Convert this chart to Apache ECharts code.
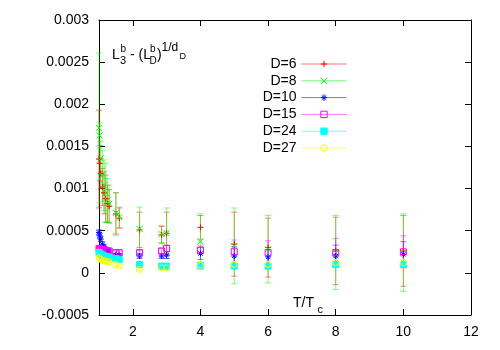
<!DOCTYPE html>
<html>
<head>
<meta charset="utf-8">
<script src="https://cdn.jsdelivr.net/npm/echarts@6/dist/echarts.min.js"></script>
<style>
  html, body { margin: 0; padding: 0; background: #fff; }
  #chart { width: 500px; height: 350px; }
</style>
</head>
<body>
<div id="chart"></div>
<script>
// T/Tc values (shared by all D)
const xs = [1.0, 1.02, 1.05, 1.1, 1.15, 1.2, 1.25, 1.3, 1.5, 1.6, 2.2, 2.85, 3.0, 4, 5, 6, 8, 10]

const d6 = [0.00135, 0.00130, 0.00118, 0.00102, 0.00095, 0.00088, 0.00082, 0.00079, 0.00070, 0.00065, 0.00051, 0.00045, 0.00047, 0.00054, 0.00034, 0.00030, 0.00026, 0.00026]
const d6Err = [0.00058, 0.00021, 0.00018, 0.00022, 0.00025, 0.00028, 0.00022, 0.00020, 0.00025, 0.00012, 0.00021, 0.00010, 0.00025, 0.00014, 0.00038, 0.00035, 0.00040, 0.00042]

const d8 = [0.00172, 0.00163, 0.00136, 0.00115, 0.00104, 0.00095, 0.00086, 0.00082, 0.00071, 0.00066, 0.00052, 0.00046, 0.00047, 0.00037, 0.00032, 0.00028, 0.00024, 0.00024]
const d8Err = [0.00089, 0.00015, 0.00020, 0.00030, 0.00030, 0.00035, 0.00026, 0.00022, 0.00024, 0.00012, 0.00026, 0.00010, 0.00030, 0.00033, 0.00045, 0.00040, 0.00044, 0.00046]

const d10 = [0.00048, 0.00044, 0.00040, 0.00034, 0.00031, 0.00028, 0.00027, 0.00026, 0.00021, 0.00021, 0.00020, 0.00020, 0.00021, 0.00023, 0.00020, 0.00019, 0.00020, 0.00022]
const d10Err = [0.00003, 0.00003, 0.00003, 0.00003, 0.00002, 0.00002, 0.00002, 0.00002, 0.00002, 0.00002, 0.00003, 0.00003, 0.00004, 0.00007, 0.00011, 0.00011, 0.00013, 0.00015]

const d15 = [0.00029, 0.00028, 0.00028, 0.00027, 0.00027, 0.00027, 0.00026, 0.00026, 0.00024, 0.00024, 0.00024, 0.00026, 0.00029, 0.00027, 0.00025, 0.00024, 0.00024, 0.00025]
const d15Err = [0.00002, 0.00002, 0.00002, 0.00002, 0.00002, 0.00002, 0.00002, 0.00002, 0.00002, 0.00002, 0.00003, 0.00003, 0.00004, 0.00005, 0.00014, 0.00014, 0.00017, 0.00019]

const d24 = [0.00024, 0.00023, 0.00022, 0.00021, 0.00020, 0.00019, 0.00019, 0.00018, 0.00017, 0.00016, 0.00010, 0.00008, 0.00008, 0.00009, 0.00008, 0.00008, 0.00010, 0.00010]
const d24Err = [0.00002, 0.00002, 0.00002, 0.00002, 0.00002, 0.00002, 0.00002, 0.00002, 0.00002, 0.00002, 0.00002, 0.00002, 0.00002, 0.00003, 0.00003, 0.00003, 0.00003, 0.00003]

const d27 = [0.00018, 0.00017, 0.00016, 0.00015, 0.00014, 0.00014, 0.00013, 0.00013, 0.00010, 0.00008, 0.00004, 0.00006, 0.00006, 0.00009, 0.00010, 0.00010, 0.00012, 0.00012]
const d27Err = [0.00002, 0.00002, 0.00002, 0.00002, 0.00002, 0.00002, 0.00002, 0.00002, 0.00002, 0.00002, 0.00002, 0.00002, 0.00002, 0.00003, 0.00003, 0.00003, 0.00004, 0.00004]

const names = ['D=6', 'D=8', 'D=10', 'D=15', 'D=24', 'D=27']
const values = [d6, d8, d10, d15, d24, d27]
const errors = [d6Err, d8Err, d10Err, d15Err, d24Err, d27Err]

const xTicks = [2, 4, 6, 8, 10, 12]

const colors = ['#ff0000', '#00ff00', '#0000ff', '#ff00ff', '#00ffff', '#ffff00']
const symbols = [
  'path://M0,5L10,5M5,0L5,10',
  'path://M0,0L10,10M10,0L0,10',
  'path://M0,5L10,5M5,0L5,10M1.5,1.5L8.5,8.5M8.5,1.5L1.5,8.5',
  'rect', 'rect', 'circle'
]
const filled = [true, true, true, false, true, false]

const font = 'Liberation Sans, Arial, Helvetica, sans-serif'

const chart = echarts.init(document.getElementById('chart'))

const series = []
names.forEach((name, i) => {
  const pts = xs.map((x, j) => [x, values[i][j], errors[i][j]])
  // error bars
  series.push({
    type: 'custom',
    name: name + ' err',
    data: pts,
    encode: { x: 0, y: 1 },
    silent: true,
    renderItem: function(params, api) {
      const x = api.value(0)
      const y = api.value(1)
      const e = api.value(2)
      const top = api.coord([x, y + e])
      const bot = api.coord([x, y - e])
      const st = { stroke: colors[i], lineWidth: 1, opacity: 0.5 }
      return {
        type: 'group',
        children: [
          { type: 'line', shape: { x1: top[0], y1: top[1], x2: bot[0], y2: bot[1] }, style: st },
          { type: 'line', shape: { x1: top[0] - 3, y1: top[1], x2: top[0] + 3, y2: top[1] }, style: st },
          { type: 'line', shape: { x1: bot[0] - 3, y1: bot[1], x2: bot[0] + 3, y2: bot[1] }, style: st }
        ]
      }
    }
  })
  // points
  series.push({
    type: 'line',
    name: name,
    data: pts.map(p => [p[0], p[1]]),
    symbol: symbols[i],
    symbolSize: 6,
    showAllSymbol: true,
    lineStyle: { color: colors[i], opacity: 0 },
    itemStyle: {
      color: filled[i] ? colors[i] : 'rgba(0,0,0,0)',
      borderColor: colors[i],
      borderWidth: 1
    }
  })
})

const axisCommon = {
  type: 'value',
  axisLine: { show: true, onZero: false, lineStyle: { color: '#000', width: 1 } },
  splitLine: { show: false }
}

chart.setOption({
  animation: false,
  grid: { left: 99, right: 29, top: 20, bottom: 35 },
  legend: {
    data: names,
    orient: 'vertical',
    align: 'right',
    right: 148,
    top: 52,
    itemWidth: 45,
    itemHeight: 8,
    itemGap: 2.8,
    selectedMode: false,
    textStyle: { fontSize: 14, color: '#000', fontFamily: font },
    lineStyle: { opacity: 0.55, width: 1 },
    itemStyle: { borderWidth: 1 }
  },
  xAxis: [
    Object.assign({}, axisCommon, {
      min: 1, max: 12, position: 'bottom',
      axisTick: { inside: true, length: 6, customValues: xTicks, lineStyle: { color: '#000' } },
      axisLabel: { customValues: xTicks, color: '#000', fontSize: 14, fontFamily: font, margin: 10 }
    }),
    Object.assign({}, axisCommon, {
      min: 1, max: 12, position: 'top',
      axisTick: { inside: true, length: 6, customValues: xTicks, lineStyle: { color: '#000' } },
      axisLabel: { show: false }
    })
  ],
  yAxis: [
    Object.assign({}, axisCommon, {
      min: -0.0005, max: 0.003, interval: 0.0005, position: 'left',
      axisTick: { inside: true, length: 6, lineStyle: { color: '#000' } },
      axisLabel: { color: '#000', fontSize: 14, fontFamily: font, margin: 10 }
    }),
    Object.assign({}, axisCommon, {
      min: -0.0005, max: 0.003, interval: 0.0005, position: 'right',
      axisTick: { inside: true, length: 6, lineStyle: { color: '#000' } },
      axisLabel: { show: false }
    })
  ],
  graphic: [
    // L_3^b - (L_D^b)^{1/d_D}
    { type: 'text', x: 112, y: 55.5, style: { text: 'L', fontSize: 14, fontFamily: font, fill: '#000', verticalAlign: 'middle' } },
    { type: 'text', x: 120.5, y: 49, style: { text: 'b', fontSize: 10, fontFamily: font, fill: '#000', verticalAlign: 'middle' } },
    { type: 'text', x: 120, y: 61, style: { text: '3', fontSize: 11, fontFamily: font, fill: '#000', verticalAlign: 'middle' } },
    { type: 'text', x: 130, y: 55.5, style: { text: '- (L', fontSize: 14, fontFamily: font, fill: '#000', verticalAlign: 'middle' } },
    { type: 'text', x: 150, y: 49, style: { text: 'b', fontSize: 10, fontFamily: font, fill: '#000', verticalAlign: 'middle' } },
    { type: 'text', x: 149.5, y: 61, style: { text: 'D', fontSize: 10, fontFamily: font, fill: '#000', verticalAlign: 'middle' } },
    { type: 'text', x: 157, y: 55.5, style: { text: ')', fontSize: 14, fontFamily: font, fill: '#000', verticalAlign: 'middle' } },
    { type: 'text', x: 161.5, y: 47.5, style: { text: '1/d', fontSize: 12, fontFamily: font, fill: '#000', verticalAlign: 'middle' } },
    { type: 'text', x: 179.5, y: 56.5, style: { text: 'D', fontSize: 9, fontFamily: font, fill: '#000', verticalAlign: 'middle' } },
    // T/T_c
    { type: 'text', x: 293, y: 303.5, style: { text: 'T/T', fontSize: 14, fontFamily: font, fill: '#000', verticalAlign: 'middle' } },
    { type: 'text', x: 317.5, y: 310, style: { text: 'c', fontSize: 11, fontFamily: font, fill: '#000', verticalAlign: 'middle' } }
  ],
  series: series
})
</script>
</body>
</html>
